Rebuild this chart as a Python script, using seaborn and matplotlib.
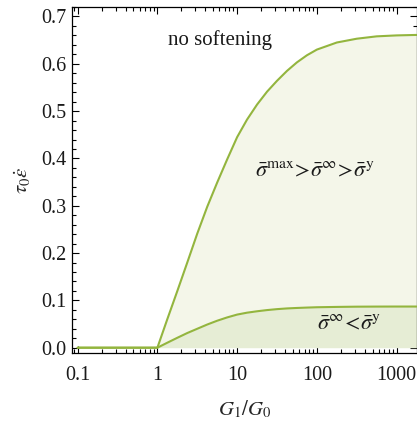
import matplotlib
matplotlib.use("Agg")
import matplotlib.pyplot as plt
import matplotlib.ticker as mticker
import seaborn as sns
import pandas as pd

# ---- data ----
ratio = [0.1, 1.0, 1.33, 1.78, 2.37, 3.16, 4.22, 5.62, 7.50, 10.0, 13.3, 17.8, 23.7,
         31.6, 42.2, 56.2, 75.0, 100.0, 178.0, 316.0, 562.0, 1000.0, 1778.0]
upper = [0.0, 0.0, 0.060, 0.120, 0.180, 0.241, 0.298, 0.349, 0.398, 0.445, 0.482, 0.514, 0.541,
         0.564, 0.585, 0.603, 0.618, 0.630, 0.645, 0.653, 0.658, 0.660, 0.661]
lower = [0.0, 0.0, 0.0105, 0.021, 0.031, 0.040, 0.049, 0.057, 0.064, 0.070, 0.074, 0.077, 0.0795,
         0.0815, 0.083, 0.084, 0.0848, 0.0855, 0.0862, 0.0867, 0.0869, 0.087, 0.087]

xticks = [0.1, 1, 10, 100, 1000]
xticklabels = ["0.1", "1", "10", "100", "1000"]
yticks = [0.0, 0.1, 0.2, 0.3, 0.4, 0.5, 0.6, 0.7]
yticklabels = ["0.0", "0.1", "0.2", "0.3", "0.4", "0.5", "0.6", "0.7"]

df = pd.DataFrame({"ratio": ratio, "upper": upper, "lower": lower})

sns.set_theme(style="ticks")
plt.rcParams["font.family"] = ["Liberation Serif", "DejaVu Serif"]
plt.rcParams["mathtext.fontset"] = "stix"

line_c = "#93b53e"
fill_up = "#f4f6e9"
fill_lo = "#e6edd5"

fig = plt.figure(figsize=(4.17, 4.25), dpi=100)
ax = fig.add_axes([0.1727, 0.1694, 0.8263, 0.8141])

d1 = df[df["ratio"] >= 1.0]
ax.fill_between(d1["ratio"], d1["lower"], d1["upper"], color=fill_up, lw=0, zorder=1)
ax.fill_between(d1["ratio"], 0, d1["lower"], color=fill_lo, lw=0, zorder=1)

sns.lineplot(data=df, x="ratio", y="upper", ax=ax, color=line_c, lw=1.5, zorder=3)
sns.lineplot(data=df, x="ratio", y="lower", ax=ax, color=line_c, lw=1.5, zorder=3)

ax.set_xscale("log")
ax.set_xlim(0.085, 1780)
ax.set_ylim(-0.0112, 0.720)

ax.set_xticks(xticks)
ax.set_xticklabels(xticklabels)
ax.xaxis.set_minor_locator(mticker.LogLocator(base=10, subs=range(2, 10), numticks=20))
ax.xaxis.set_minor_formatter(mticker.NullFormatter())
ax.set_yticks(yticks)
ax.set_yticklabels(yticklabels)
ax.yaxis.set_minor_locator(mticker.MultipleLocator(0.02))

for s in ax.spines.values():
    s.set_color("black")
    s.set_linewidth(0.9)
    s.set_visible(True)

ax.tick_params(which="both", direction="in", top=True, right=True, color="black", width=0.8)
ax.tick_params(which="major", length=5, labelsize=14.5, labelcolor="#1a1a1a")
ax.tick_params(which="minor", length=2.6)
ax.tick_params(axis="x", which="major", pad=9)
ax.tick_params(axis="y", which="major", pad=4)

ax.set_xlabel(r"$G_1/G_0$", fontsize=15, labelpad=10)
ax.set_ylabel(r"$\tau_0\dot{\varepsilon}$", fontsize=15, labelpad=6)

ax.text(6.1, 0.650, "no softening", fontsize=15, ha="center", va="center", color="#1a1a1a")
ax.text(93, 0.371, r"$\bar{\sigma}^{\mathrm{max}}\!>\!\bar{\sigma}^{\infty}\!>\!\bar{\sigma}^{\mathrm{y}}$",
        fontsize=16, ha="center", va="center", color="#1a1a1a")
ax.text(256, 0.047, r"$\bar{\sigma}^{\infty}\!<\!\bar{\sigma}^{\mathrm{y}}$",
        fontsize=16, ha="center", va="center", color="#1a1a1a")

fig.savefig("out.png", dpi=100)
